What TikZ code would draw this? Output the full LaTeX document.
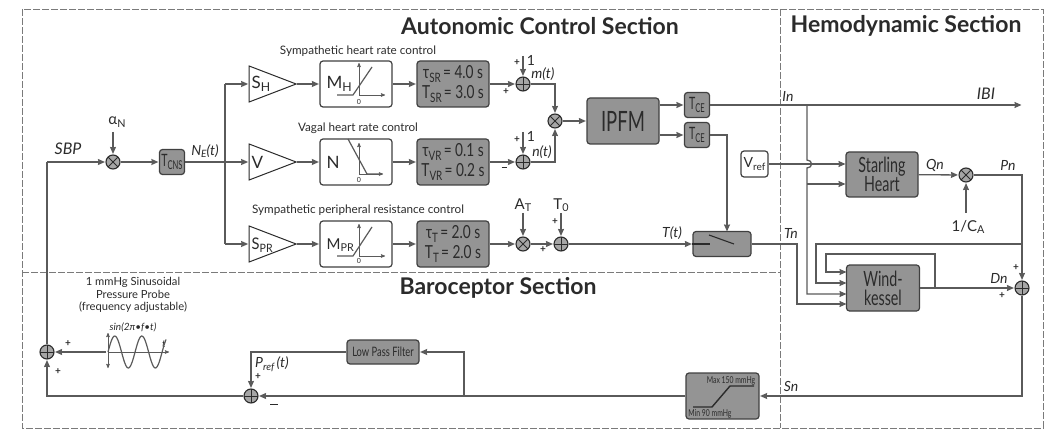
\documentclass[tikz,border=0pt]{standalone}
\usepackage{graphicx}
\usepackage{fontspec}
\setmainfont{Lato}
\usetikzlibrary{arrows,arrows.meta,shapes.geometric}
\definecolor{boxgray}{HTML}{949494}
\definecolor{linegray}{HTML}{5A5A5A}
\definecolor{dashgray}{HTML}{7A7A7A}
\definecolor{inkdark}{HTML}{2B2B2B}
\newcommand{\lowtxt}[1]{\raisebox{-0.35ex}{\scalebox{.72}{#1}}}
\newcommand{\cond}[2][.72]{\scalebox{#1}[1]{#2}}
\newcommand{\fs}[1]{\fontsize{#1}{#1}\selectfont}

\begin{document}
\begin{tikzpicture}[x=1pt,y=-1pt,->,>={Stealth[length=7pt,width=6pt,inset=.6pt]},shorten >=0.5pt,line width=1.3pt,draw=linegray,text=inkdark]
   \tikzstyle{block}=[draw=inkdark!90,fill=boxgray,rounded corners=3pt,line width=1.2pt,inner sep=0pt,align=center]
   \tikzstyle{mapblock}=[block,fill=white,minimum width=72pt,minimum height=46pt]
   \tikzstyle{parblock}=[block,minimum width=72pt,minimum height=46pt,font=\fs{18}]
   \tikzstyle{tblock}=[block,minimum width=25pt,minimum height=25pt,font=\fs{17}]
   \tikzstyle{gain}=[draw=inkdark,fill=white,isosceles triangle,isosceles triangle apex angle=74,isosceles triangle stretches,minimum width=36pt,minimum height=47pt,inner sep=0pt,line width=1pt]
   \tikzstyle{junction}=[circle,draw=inkdark,fill=gray!70,line width=1.1pt,minimum size=14pt,inner sep=0pt]
   \tikzstyle{sum}=[junction,path picture={\draw[-,shorten >=0pt,line width=.9pt,draw=inkdark] (path picture bounding box.north)--(path picture bounding box.south) (path picture bounding box.west)--(path picture bounding box.east);}]
   \tikzstyle{mult}=[junction,path picture={\draw[-,shorten >=0pt,line width=.9pt,draw=inkdark] (path picture bounding box.north west)--(path picture bounding box.south east) (path picture bounding box.north east)--(path picture bounding box.south west);}]
   \tikzstyle{label}=[inner sep=0pt,font=\fs{14}]
   \tikzstyle{var}=[inner sep=0pt,font=\fs{14}\itshape]
   \tikzstyle{title}=[inner sep=0pt,font=\fs{23}\bfseries]
   \tikzstyle{caption}=[inner sep=0pt,font=\fs{11.7}]
   \tikzstyle{sign}=[inner sep=0pt,font=\fs{10}\bfseries]
   \tikzstyle{frame}=[-,draw=dashgray,line width=.8pt,dash pattern=on 7pt off 2pt]
   \tikzstyle{thin}=[-,>=stealth',shorten >=0pt,draw=linegray,line width=.6pt]

   \useasboundingbox (0,0) rectangle (1048,430);

   % sections
   \draw[frame] (22,9) rectangle (1043,428);
   \coordinate (frameT) at (780,9);
   \coordinate (frameB) at (780,428);
   \coordinate (frameL) at (22,272);
   \coordinate (frameM) at (780,272);
   \draw[frame] (frameT) -- (frameB);
   \draw[frame] (frameL) -- (frameM);
   \node[title] (autoTitle) at (540,26) {Autonomic Control Section};
   \node[title] (hemoTitle) at (906,26) {Hemodynamic Section};
   \node[title] (baroTitle) at (498,288) {Baroceptor Section};

   % autonomic control
   \node[mult]   (mulN)  at (113,162) {};
   \node[label,font=\fs{15}]  (alphaN)  at (117,122) {α\lowtxt{N}};
   \node[tblock] (Tcns)  at (172,162) {\cond[.62]{T\lowtxt{CNS}}};
   \coordinate   (splitN) at (225,162);
   \coordinate   (splitH) at (225,84);
   \coordinate   (splitP) at (225,244);
   \node[gain]   (gainH)  at (261.5,84)  {};
   \node[gain]   (gainV)  at (261.5,162) {};
   \node[gain]   (gainP)  at (261.5,244) {};
   \node[label,anchor=west,font=\fs{17}] (gainHtxt) at (251,84)  {S\lowtxt{H}};
   \node[label,anchor=west,font=\fs{17}] (gainVtxt) at (251,162) {V};
   \node[label,anchor=west,font=\fs{16}] (gainPtxt) at (251,245) {\cond[.92]{S\lowtxt{PR}}};
   \node[mapblock] (mapH)  at (356,84)  {};
   \node[mapblock] (mapV)  at (356,162) {};
   \node[mapblock] (mapP)  at (356,244) {};
   \node[parblock] (parH)  at (453,84)  {\cond[.76]{τ\lowtxt{SR}\,= 4.0 s}\\[2pt]\cond[.76]{T\lowtxt{SR}\,= 3.0 s}};
   \node[parblock] (parV)  at (453,162) {\cond[.76]{τ\lowtxt{VR}\,= 0.1 s}\\[2pt]\cond[.76]{T\lowtxt{VR}\,= 0.2 s}};
   \node[parblock] (parP)  at (453,244) {\cond[.76]{τ\lowtxt{T}\,= 2.0 s}\\[2pt]\cond[.76]{T\lowtxt{T}\,= 2.0 s}};
   \node[sum]    (sumH)  at (523,84)  {};
   \node[sum]    (sumV)  at (523,162) {};
   \node[mult]   (mulT)  at (523,244) {};
   \node[sum]    (sumT)  at (561,244) {};
   \node[mult]   (mulI)  at (555,121) {};
   \node[block,font=\fs{28},minimum width=72pt,minimum height=46pt] (ipfm) at (623,121) {\cond[.66]{IPFM}};
   \node[tblock] (TceA)  at (697,105) {\cond[.62]{T\lowtxt{CE}}};
   \node[tblock] (TceB)  at (697,135) {\cond[.62]{T\lowtxt{CE}}};
   \node[block,minimum width=58pt,minimum height=25pt] (switch) at (722,244) {};
   \coordinate (inH) at (523,56);
   \coordinate (inV) at (523,132);
   \coordinate (inA) at (523,213);
   \coordinate (inZ) at (561,213);
   \coordinate (inS) at (710,244);
   \coordinate (switchTop) at (727,232);
   \coordinate (inAlpha) at (113,132);
   \node[label] (oneH) at (531,60)  {1};
   \node[label] (oneV) at (531,136) {1};
   \node[label,font=\fs{15}] (At) at (523,205) {A\lowtxt{T}};
   \node[label,font=\fs{15}] (To) at (561,205) {T\lowtxt{0}};
   \node[sign] (pHa) at (517,63)  {+};
   \node[sign] (pHb) at (506,92)  {+};
   \node[sign] (pVa) at (517,140) {+};
   \node[sign] (pVb) at (504,168) {\rule[1.5pt]{5pt}{1.2pt}};
   \node[sign] (pTa) at (555,222) {+};
   \node[sign] (pTb) at (543,250) {+};
   \node[var,font=\fs{16}\itshape] (sbp) at (68,149)  {SBP};
   \node[var] (ne)  at (205,151) {N\lowtxt{E}(t)};
   \node[var] (mt)  at (543,74)  {m(t)};
   \node[var] (nt)  at (542,152) {n(t)};
   \node[var] (Tt)  at (672,233) {T(t)};
   \node[caption] (capH) at (358,51)  {Sympathetic heart rate control};
   \node[caption] (capV) at (358,128) {Vagal heart rate control};
   \node[caption] (capP) at (358,210) {Sympathetic peripheral resistance control};

   % inside of the mapping blocks
   \node[label,anchor=west,font=\fs{17}] (mapHtxt) at (326,84)  {M\lowtxt{H}};
   \node[label,anchor=west,font=\fs{17}] (mapVtxt) at (326,162) {N};
   \node[label,anchor=west,font=\fs{15}] (mapPtxt) at (326,245) {M\lowtxt{PR}};
   \node[inner sep=0pt,font=\fs{7}] (zeroH) at (359,102) {0};
   \node[inner sep=0pt,font=\fs{7}] (zeroV) at (359,180) {0};
   \node[inner sep=0pt,font=\fs{7}] (zeroP) at (359,261) {0};
   \draw[thin,<->] (359,63) -- (359,95) -- (385,95);
   \draw[thin,line width=1.2pt] (337,95) -- (353,95) -- (372,67);
   \draw[thin,<->] (359,143) -- (359,174) -- (383,174);
   \draw[thin,line width=1.2pt] (348,139) -- (367,174) -- (382,174);
   \draw[thin,<->] (359,224) -- (359,256) -- (385,256);
   \draw[thin,line width=1.2pt] (337,256) -- (353,256) -- (372,227);

   % hemodynamics
   \node[block,font=\fs{21},minimum width=72pt,minimum height=45pt] (heart) at (882,174.5) {\cond[.68]{Starling}\\[-2pt]\cond[.68]{Heart}};
   \node[block,font=\fs{21},minimum width=73pt,minimum height=46pt] (wind) at (883,288) {\cond[.68]{Wind-}\\[-2pt]\cond[.68]{kessel}};
   \node[block,fill=white,minimum width=27pt,minimum height=26pt,font=\fs{14}] (vref) at (754.5,164) {V\lowtxt{ref}};
   \node[mult] (mulQ) at (966,175) {};
   \node[sum]  (sumD) at (1022,288) {};
   \coordinate (outIBI) at (1022,105);
   \coordinate (branchIn) at (807,105);
   \coordinate (hopA) at (807,160);
   \coordinate (hopB) at (807,168);
   \coordinate (branchHeart) at (807,184);
   \coordinate (inHeartA) at (846,164);
   \coordinate (inHeartB) at (846,184);
   \coordinate (inWindA) at (847,272);
   \coordinate (inWindB) at (847,283);
   \coordinate (inWindC) at (847,294);
   \coordinate (inWindD) at (847,304);
   \coordinate (turnTn) at (797,244);
   \coordinate (turnIn) at (807,294);
   \coordinate (branchPn) at (1022,244);
   \coordinate (turnPn) at (816,244);
   \coordinate (branchW) at (935,288);
   \coordinate (topW) at (935,254);
   \coordinate (topWl) at (826,254);
   \coordinate (inQ) at (966,213);
   \coordinate (cornerS) at (1022,396);
   \node[label,font=\fs{15}] (invCa) at (968,227) {1/C\lowtxt{A}};
   \node[var] (In)  at (788,96)  {In};
   \node[var,font=\fs{16}\itshape] (ibi) at (986,94) {IBI};
   \node[var] (Tn)  at (791,233) {Tn};
   \node[var] (Qn)  at (935,165) {Qn};
   \node[var] (Pn)  at (1008,165) {Pn};
   \node[var] (Dn)  at (999,278) {Dn};
   \node[var] (Sn)  at (791,386) {Sn};
   \node[sign] (pDa) at (1016,268) {+};
   \node[sign] (pDb) at (1002,296) {+};

   % baroceptor
   \node[block,minimum width=73pt,minimum height=46pt] (limit) at (722.5,396) {};
   \node[inner sep=0pt,font=\fs{9.5}] (maxTxt) at (731,381) {\cond[.72]{Max 150 mmHg}};
   \node[inner sep=0pt,font=\fs{9.5}] (minTxt) at (710,414) {\cond[.72]{Min 90 mmHg}};
   \node[block,font=\fs{13},minimum width=72pt,minimum height=24pt] (lpf) at (383,352) {\cond[.72]{Low Pass Filter}};
   \node[sum] (sumP) at (251,396) {};
   \node[sum] (sumB) at (47,352)  {};
   \coordinate (tapS) at (464,396);
   \coordinate (tapT) at (464,352);
   \coordinate (cornerR) at (251,352);
   \coordinate (cornerL) at (47,396);
   \coordinate (cornerU) at (47,162);
   \coordinate (probe) at (106,352);
   \node[var] (pref) at (272,364) {P\lowtxt{ref}\,(t)};
   \node[sign] (pPa) at (258,377) {+};
   \node[sign] (pPb) at (274,405) {\rule[1.5pt]{8pt}{1.4pt}};
   \node[sign] (pBa) at (68,344) {+};
   \node[sign] (pBb) at (58,372) {+};
   \node[inner sep=0pt,align=center,font=\fs{11.2}] (probeTxt) at (133,295) {1 mmHg Sinusoidal\\[1pt]Pressure Probe\\[1pt](frequency adjustable)};
   \node[inner sep=0pt,font=\fs{10}\itshape] (sinTxt) at (133,327) {sin(2π•f•t)};
   \node[inner sep=0pt,font=\fs{10}\itshape] (tTxt) at (164,344) {t};
   \draw[thin,<->] (108,333) -- (108,368);
   \draw[thin,->] (108,352) -- (169,352);
   \draw[thin,line width=1.2pt] plot[domain=0:58,samples=60,smooth] (108+\x,{352-16*sin(\x*13.3)});

   % inside of the limiter and the switch
   \draw[thin,line width=1.4pt,draw=inkdark] (693,407) -- (712,407) -- (730,386) -- (754,386);
   \draw[thin,line width=1.1pt,draw=inkdark] (709,235) -- (734,244);

   % connectors
   \path
     (cornerU)  edge  (mulN)
     (inAlpha)  edge  (mulN)
     (mulN)  edge  (Tcns)
     (splitH)  edge  (gainH.west)
     (splitN)  edge  (gainV.west)
     (splitP)  edge  (gainP.west)
     (gainH.apex)  edge  (mapH)
     (gainV.apex)  edge  (mapV)
     (gainP.apex)  edge  (mapP)
     (mapH)  edge  (parH)
     (mapV)  edge  (parV)
     (mapP)  edge  (parP)
     (parH)  edge  (sumH)
     (parV)  edge  (sumV)
     (parP)  edge  (mulT)
     (inH)  edge  (sumH)
     (inV)  edge  (sumV)
     (inA)  edge  (mulT)
     (inZ)  edge  (sumT)
     (mulT)  edge  (sumT)
     (mulI)  edge  (ipfm)
     (ipfm.east |- TceA)  edge  (TceA)
     (ipfm.east |- TceB)  edge  (TceB)
     (heart)  edge  (mulQ)
     (inQ)  edge  (mulQ)
     (branchHeart)  edge  (inHeartB)
     (vref)  edge  (inHeartA)
     (wind)  edge  (sumD)
     (limit)  edge  (sumP)
     (sumT)  edge  (switch);
   \draw[->] (sumH) -| (mulI);
   \draw[->] (sumV) -| (mulI);
   \draw[->] (TceA) -- (outIBI);
   \draw[->] (TceB) -| (switchTop);
   \draw[-,shorten >=0pt] (Tcns) -- (splitN) (splitH) -- (splitP) (sumB) -- (cornerU);
   \draw[thin,line width=1.1pt,draw=inkdark] (switch.west) -- (inS);
   \draw[->] (switch) -- (turnTn) |- (inWindD);
   \draw[->] (branchIn) -- (hopA) .. controls +(6,0) and +(6,0) .. (hopB) -- (turnIn) -- (inWindC);
   \draw[->] (mulQ) -| (sumD);
   \draw[->] (branchPn) -- (turnPn) |- (inWindB);
   \draw[->] (branchW) -- (topW) -- (topWl) |- (inWindA);
   \draw[->] (sumD) |- (cornerS) -- (limit);
   \draw[->] (tapS) -- (tapT) -- (lpf);
   \draw[->] (lpf) -- (cornerR) -- (sumP);
   \draw[->] (sumP) -- (cornerL) -- (sumB);
   \draw[->] (probe) -- (sumB);
\end{tikzpicture}
\end{document}
